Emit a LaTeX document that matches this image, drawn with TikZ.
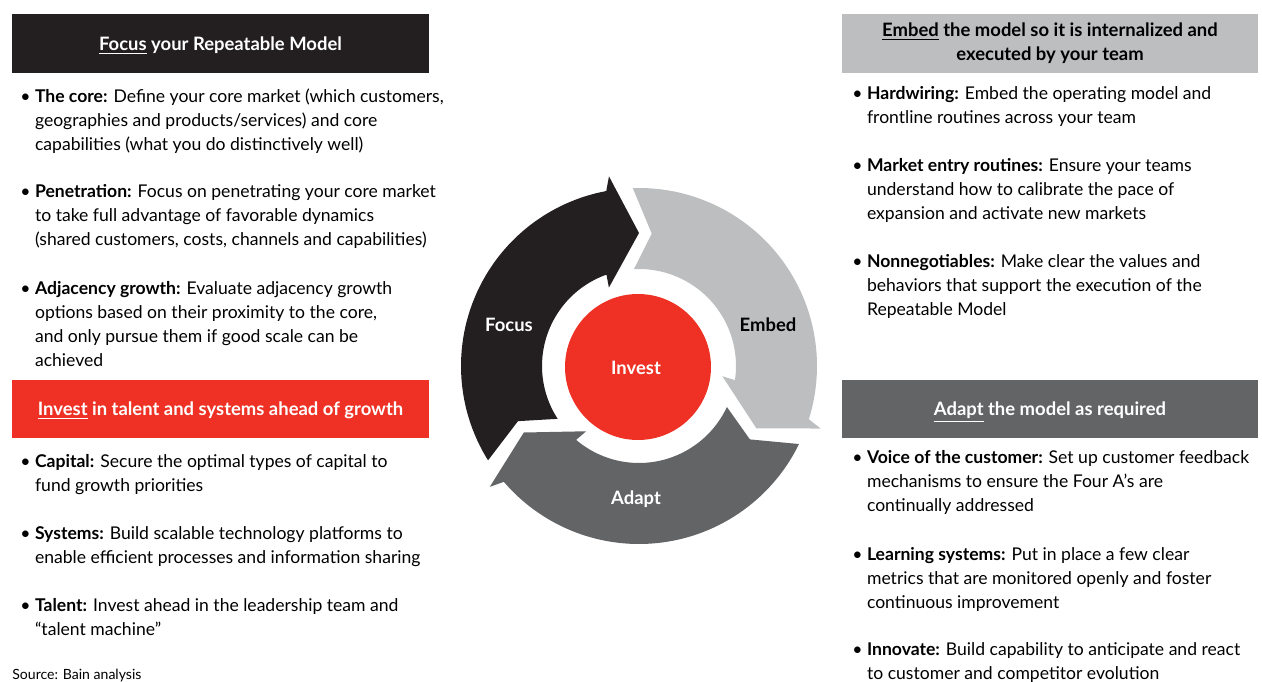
\documentclass[tikz,border=0pt]{standalone}
\usepackage{fontspec}
\setmainfont{Lato}
\usetikzlibrary{calc}

\definecolor{focusblack}{HTML}{231F20}
\definecolor{embedgray}{HTML}{BCBEC0}
\definecolor{adaptgray}{HTML}{636466}
\definecolor{investred}{HTML}{EE3124}

\newcommand{\ind}{\hphantom{\textbullet\ }}
\newcommand{\ulword}[1]{\smash{\underline{#1}}}
\newcommand{\bodyfont}{\fontsize{10}{13.66}\selectfont}
\newcommand{\headfont}{\fontsize{10.5}{13.66}\selectfont\bfseries}
% one arrow of the cycle: colour, angle of the tail, angle of the tip
\newcommand{\cyclearrow}[3]{%
  \fill[#1] (#2+2:178) arc[start angle=#2+2, end angle=#3+10.6, radius=178]
    -- (#3+9:192) -- (#3:133) -- (#3+21:84) -- (#3+19.6:97)
    arc[start angle=#3+19.6, end angle=#2+3, radius=97]
    -- (#2-5.5:133) -- cycle;}

\begin{document}
\begin{tikzpicture}[x=0.02cm,y=0.02cm,
  header/.style={minimum width=8.34cm, minimum height=1.18cm, inner sep=0pt, text depth=0pt, font=\headfont},
  bullettext/.style={anchor=north west, inner sep=0pt, align=left, font=\bodyfont},
  cyclelabel/.style={font=\headfont}]
  \useasboundingbox (0,0) rectangle (1262,-682);

  % headers
  \node[header, fill=focusblack, text=white] (focushead) at (220.5,-43.5) {\ulword{Focus} your Repeatable Model};
  \node[header, fill=investred, text=white] (investhead) at (220.5,-409) {\ulword{Invest} in talent and systems ahead of growth};
  \node[header, text depth=, align=center, fill=embedgray, text=black] (embedhead) at (1050,-43.5) {\ulword{Embed} the model so it is internalized and\\executed by your team};
  \node[header, fill=adaptgray, text=white] (adapthead) at (1050,-409) {\ulword{Adapt} the model as required};

  % left column
  \node[bullettext] (core) at (20,-85) {\strut\textbullet\ \textbf{The core:} Define your core market (which customers,\\\ind geographies and products/services) and core\\\ind capabilities (what you do distinctively well)};
  \node[bullettext] (penetration) at (20,-180) {\strut\textbullet\ \textbf{Penetration:} Focus on penetrating your core market\\\ind to take full advantage of favorable dynamics\\\ind (shared customers, costs, channels and capabilities)};
  \node[bullettext] (adjacency) at (20,-277) {\strut\textbullet\ \textbf{Adjacency growth:} Evaluate adjacency growth\\\ind options based on their proximity to the core,\\\ind and only pursue them if good scale can be\\\ind achieved};
  \node[bullettext] (capital) at (20,-450) {\strut\textbullet\ \textbf{Capital:} Secure the optimal types of capital to\\\ind fund growth priorities};
  \node[bullettext] (systems) at (20,-522) {\strut\textbullet\ \textbf{Systems:} Build scalable technology platforms to\\\ind enable efficient processes and information sharing};
  \node[bullettext] (talent) at (20,-594) {\strut\textbullet\ \textbf{Talent:} Invest ahead in the leadership team and\\\ind “talent machine”};
  \node[anchor=base west, inner sep=0pt, font=\fontsize{8}{10}\selectfont] (source) at (12,-679) {Source: Bain analysis};

  % right column
  \node[bullettext] (hardwiring) at (852,-82) {\strut\textbullet\ \textbf{Hardwiring:} Embed the operating model and\\\ind frontline routines across your team};
  \node[bullettext] (entry) at (852,-154) {\strut\textbullet\ \textbf{Market entry routines:} Ensure your teams\\\ind understand how to calibrate the pace of\\\ind expansion and activate new markets};
  \node[bullettext] (nonneg) at (852,-250) {\strut\textbullet\ \textbf{Nonnegotiables:} Make clear the values and\\\ind behaviors that support the execution of the\\\ind Repeatable Model};
  \node[bullettext] (voice) at (852,-446) {\strut\textbullet\ \textbf{Voice of the customer:} Set up customer feedback\\\ind mechanisms to ensure the Four A’s are\\\ind continually addressed};
  \node[bullettext] (learning) at (852,-543) {\strut\textbullet\ \textbf{Learning systems:} Put in place a few clear\\\ind metrics that are monitored openly and foster\\\ind continuous improvement};
  \node[bullettext] (innovate) at (852,-638) {\strut\textbullet\ \textbf{Innovate:} Build capability to anticipate and react\\\ind to customer and competitor evolution};

  % cycle
  \begin{scope}[shift={(639,-366)}]
    \cyclearrow{focusblack}{210}{90}
    \cyclearrow{embedgray}{90}{-28}
    \cyclearrow{adaptgray}{-28}{-150}
  \end{scope}
  \fill[investred] (638,-367) circle (73);
  \node[cyclelabel, text=white] (invest) at (636,-368) {Invest};
  \node[cyclelabel, text=white] (focus) at (509,-325) {Focus};
  \node[cyclelabel, text=black] (embed) at (768,-325) {Embed};
  \node[cyclelabel, text=white] (adapt) at (636,-499) {Adapt};
\end{tikzpicture}
\end{document}
